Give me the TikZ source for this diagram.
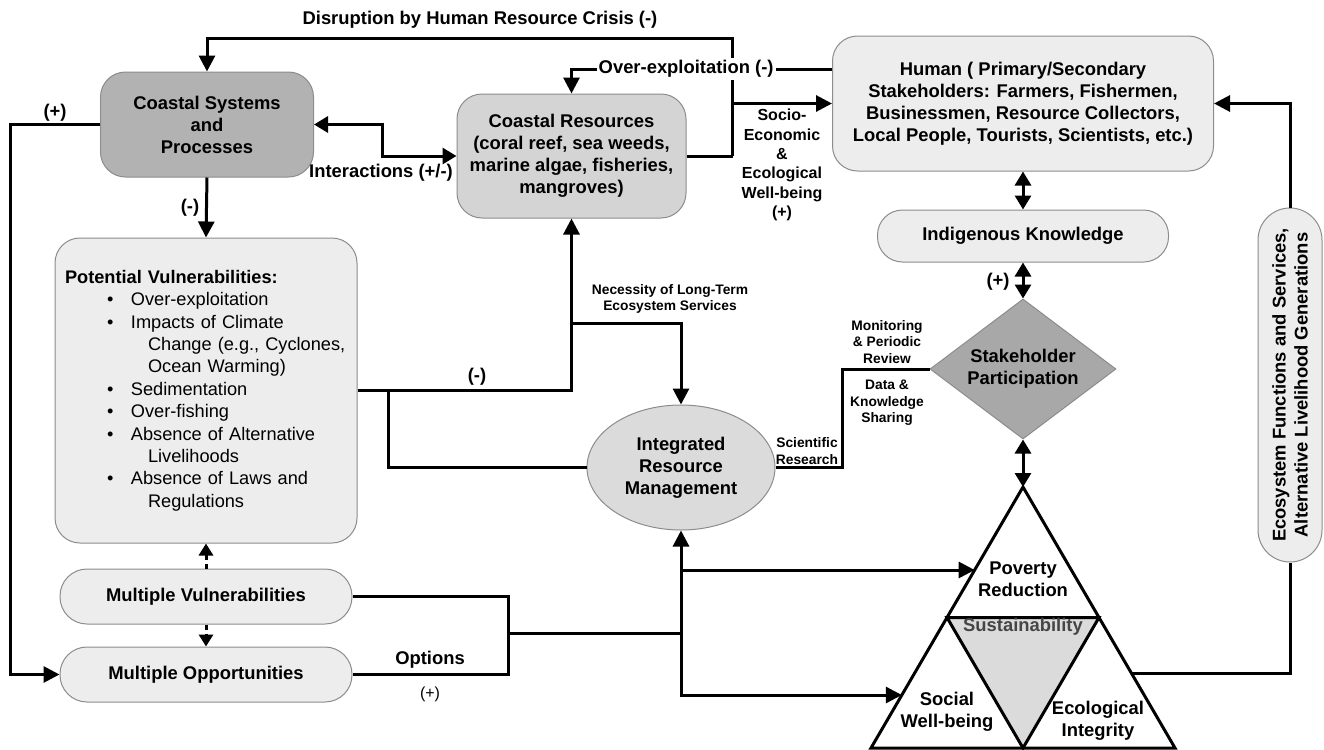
\documentclass[tikz,border=0pt]{standalone}
\usepackage{fontspec}
\setmainfont{Liberation Sans}
\usetikzlibrary{shapes.geometric,arrows.meta,calc}

\definecolor{shadeA}{gray}{0.70}
\definecolor{shadeB}{gray}{0.83}
\definecolor{shadeC}{gray}{0.86}
\definecolor{shadeD}{gray}{0.93}
\definecolor{shadeE}{gray}{0.66}
\definecolor{rim}{gray}{0.55}
\definecolor{susttext}{gray}{0.27}

\newcommand\vitem{\hspace*{21pt}\makebox[12pt][l]{\textbullet}}
\newcommand\vcont{\hspace*{41.5pt}}

\tikzset{
  block/.style={draw=rim, line width=0.5pt, align=center, inner sep=0pt,
    font=\bfseries\fontsize{9.2}{11}\selectfont},
  box/.style={block, rounded corners=12.5pt},
  wire/.style={line width=1.5pt},
  flow/.style={wire, -{Triangle[length=8pt, width=8pt]}},
  twoway/.style={wire, {Triangle[length=7pt, width=8pt]}-{Triangle[length=7pt, width=8pt]}},
  hint/.style={wire, dash pattern=on 2.5pt off 2pt, -{Triangle[length=6pt, width=7pt]}},
  lbl/.style={font=\bfseries\fontsize{9.2}{11}\selectfont, align=center, inner sep=1pt},
  tinylbl/.style={font=\bfseries\fontsize{6.9}{8.25}\selectfont, align=center, inner sep=0pt},
  midlbl/.style={font=\bfseries\fontsize{8}{9.7}\selectfont, align=center, inner sep=0pt},
  tri/.style={line width=1.5pt, line join=miter}
}

\begin{document}
\begin{tikzpicture}[x=0.5pt, y=-0.5pt]
    \useasboundingbox (0,0) rectangle (1324,750);

    \node[box, fill=shadeA, minimum width=106.5pt, minimum height=52.5pt] (coast) at (207,124.5) {Coastal Systems\\and\\Processes};
    \node[box, fill=shadeB, minimum width=114.5pt, minimum height=62pt] (res) at (571.5,156) {Coastal Resources\\(coral reef, sea weeds,\\marine algae, fisheries,\\mangroves)};
    \node[box, fill=shadeD, minimum width=190.5pt, minimum height=67.5pt] (human) at (1023,103.5) {Human ( Primary/Secondary\\Stakeholders: Farmers, Fishermen,\\Businessmen, Resource Collectors,\\Local People, Tourists, Scientists, etc.)};
    \node[box, fill=shadeD, minimum width=145.5pt, minimum height=26pt] (ik) at (1023,236) {Indigenous Knowledge};
    \node[box, fill=shadeD, minimum width=151pt, minimum height=152.5pt, align=left, text width=141pt, font=\fontsize{9.1}{11.2}\selectfont] (pv) at (206,390.5) {\textbf{Potential Vulnerabilities:}\\
        \vitem Over-exploitation\\
        \vitem Impacts of Climate\\
        \vcont Change (e.g., Cyclones,\\
        \vcont Ocean Warming)\\
        \vitem Sedimentation\\
        \vitem Over-fishing\\
        \vitem Absence of Alternative\\
        \vcont Livelihoods\\
        \vitem Absence of Laws and\\
        \vcont Regulations};
    \node[box, fill=shadeD, minimum width=146pt, minimum height=27.5pt, rounded corners=13.5pt] (mv) at (206,596.5) {Multiple Vulnerabilities};
    \node[box, fill=shadeD, minimum width=146pt, minimum height=27.5pt, rounded corners=13.5pt] (mo) at (206,674.5) {Multiple Opportunities};
    \node[block, ellipse, fill=shadeC, minimum width=94pt, minimum height=62.5pt] (irm) at (681,467.5) {Integrated\\Resource\\Management};
    \node[block, diamond, aspect=1.33, fill=shadeE, minimum width=93pt, minimum height=70pt] (stake) at (1023,369) {Stakeholder\\Participation};
    \node[box, fill=shadeD, rotate=90, minimum width=177pt, minimum height=32pt, rounded corners=16pt] (eco) at (1290,385) {Ecosystem Functions and Services,\\Alternative Livelihood Generations};

    \coordinate (tA) at (1023,487);
    \coordinate (tL) at (871,748);
    \coordinate (tR) at (1175,748);
    \coordinate (mL) at ($(tA)!0.5!(tL)$);
    \coordinate (mR) at ($(tA)!0.5!(tR)$);
    \coordinate (tB) at ($(tL)!0.5!(tR)$);
    \filldraw[tri, fill=shadeC] (mL) -- (mR) -- (tB) -- cycle;
    \draw[tri] (tA) -- (tL) -- (tR) -- cycle;
    \coordinate (povin) at ($(tA)!0.318!(tL)$);
    \coordinate (socin) at ($(tA)!0.797!(tL)$);
    \coordinate (ecoout) at ($(tA)!0.713!(tR)$);

    \node[lbl] (pr) at (1023,579) {Poverty\\Reduction};
    \node[lbl] (sw) at (947,712) {Social\\Well-being};
    \node[lbl] (ei) at (1098,721) {Ecological\\Integrity};
    \node[lbl, text=susttext] (sust) at (1023,627) {Sustainability};

    \coordinate (hub) at ([xshift=23pt]res.east);
    \coordinate (top) at (hub |- 0,38);
    \draw[wire] (res.east) -- (hub);
    \draw[flow] (hub) -- (top) -| (coast.north);
    \draw[flow] (hub) |- (human.west);
    \draw[flow] ([yshift=17.25pt]human.west) -| node[lbl, pos=0.28, fill=white] (over) {Over-exploitation (-)} (res.north);
    \draw[twoway] (coast.east) -- ++(68,0) |- (res.west);
    \draw[flow] (coast.south) -- (pv.north);
    \draw[flow] (coast.west) -- ++(-90,0) |- (mo.west);
    \draw[flow] (pv.east) -| (res.south);
    \coordinate (need) at (res.south |- 0,323);
    \draw[flow] (need) -| (irm.north);
    \draw[wire] ([xshift=15.5pt]pv.east) |- (irm.west);
    \draw[wire] (irm.east) -- ++(67,0) |- (stake.west);

    \draw[twoway] (human.south) -- (ik.north);
    \draw[twoway] (ik.south) -- (stake.north);
    \draw[twoway] (stake.south) -- (tA);

    \draw[hint] (mv.north) -- (mv.north |- pv.south);
    \draw[hint] (mv.south) -- (mo.north);

    \coordinate (opt) at (508,633);
    \coordinate (mid) at (irm.south |- opt);
    \draw[wire] (mv.east) -| (opt) |- (mo.east);
    \draw[wire] (opt) -- (mid);
    \draw[flow] (mid) -- (irm.south);
    \draw[flow] (mid) |- (socin);
    \draw[flow] (mid |- povin) -- (povin);

    \draw[wire] (ecoout) -| (eco.west);
    \draw[flow] (eco.east) |- (human.east);

    \node[lbl] (disr) at (480,20) {Disruption by Human Resource Crisis (-)};
    \node[lbl] (inter) at (381,173) {Interactions (+/-)};
    \node[midlbl] (socio) at (782,165) {Socio-\\Economic\\\&\\Ecological\\Well-being\\(+)};
    \node[lbl] (minus1) at (190,208) {(-)};
    \node[lbl] (plus1) at (55,113) {(+)};
    \node[lbl] (minus2) at (477,377) {(-)};
    \node[tinylbl] (necessity) at (670,299) {Necessity of Long-Term\\Ecosystem Services};
    \node[tinylbl] (sci) at (807,451) {Scientific\\Research};
    \node[tinylbl] (mon) at (887,342) {Monitoring\\\& Periodic\\Review};
    \node[tinylbl] (share) at (887,403) {Data \&\\Knowledge\\Sharing};
    \node[lbl] (plus2) at (998,282) {(+)};
    \node[lbl] (opts) at (430,660) {Options};
    \node[lbl, font=\fontsize{8}{10}\selectfont] (plus3) at (430,694) {(+)};
\end{tikzpicture}
\end{document}
